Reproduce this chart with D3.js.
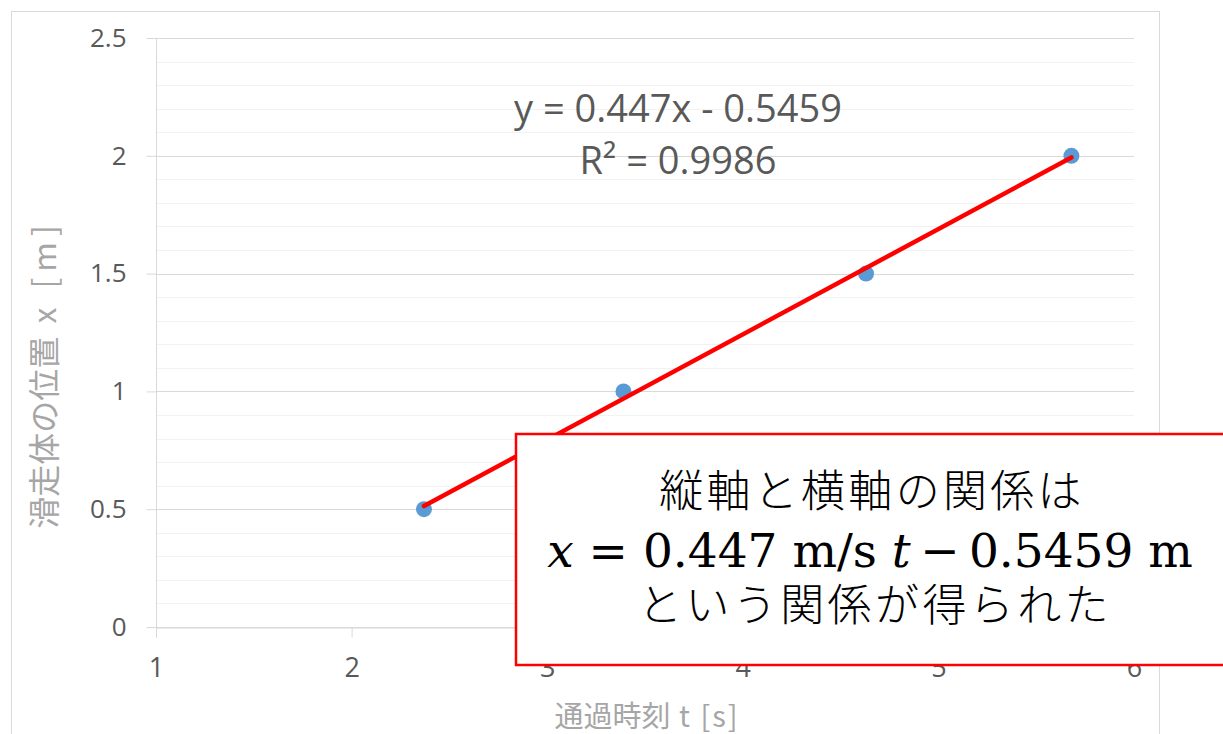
<!DOCTYPE html>
<html>
<head>
<meta charset="utf-8">
<script src="https://cdn.jsdelivr.net/npm/d3@7"></script>
<style>
  html, body { margin: 0; padding: 0; background: #ffffff; }
  svg { display: block; }
</style>
</head>
<body>
<svg id="chart" width="1223" height="734"></svg>
<script>
// ---- data ----
const tValues = [2.37, 3.39, 4.63, 5.68];   // 通過時刻 t [s]
const xValues = [0.5, 1.0, 1.5, 2.0];       // 滑走体の位置 x [m]
const slope = 0.447;
const intercept = -0.5459;
const rSquared = 0.9986;
const xTickValues = [1, 2, 3, 4, 5, 6];
const yTickValues = [0, 0.5, 1, 1.5, 2, 2.5];
const yMinorValues = [0.1,0.2,0.3,0.4,0.6,0.7,0.8,0.9,1.1,1.2,1.3,1.4,1.6,1.7,1.8,1.9,2.1,2.2,2.3,2.4];
const xAxisTitleJa = "通過時刻";
const xAxisTitleUnit = " t [s]";
const yAxisTitleJa = "滑走体の位置";
const yAxisTitleUnit = " x [m]";
const boxLine1 = "縦軸と横軸の関係は";
const boxLine3 = "という関係が得られた";

(function () {
const svg = d3.select("#chart");
const pLeft = 156, pRight = 1134, pTop = 38, pBottom = 627;

const x = d3.scaleLinear().domain([1, 6]).range([pLeft, pRight]);
const y = d3.scaleLinear().domain([0, 2.5]).range([pBottom, pTop]);

// chart frame
svg.append("rect").attr("x", 11.5).attr("y", 11.5).attr("width", 1148).attr("height", 740)
  .attr("fill", "#fff").attr("stroke", "#d9d9d9").attr("stroke-width", 1);

// minor gridlines
svg.append("g").selectAll("line").data(yMinorValues).join("line")
  .attr("x1", pLeft).attr("x2", pRight)
  .attr("y1", d => Math.round(y(d)) + 0.5).attr("y2", d => Math.round(y(d)) + 0.5)
  .attr("stroke", "#f2f2f2").attr("stroke-width", 1);

// major gridlines
svg.append("g").selectAll("line").data(yTickValues).join("line")
  .attr("x1", pLeft).attr("x2", pRight)
  .attr("y1", d => Math.round(y(d)) + 0.5).attr("y2", d => Math.round(y(d)) + 0.5)
  .attr("stroke", "#d9d9d9").attr("stroke-width", 1);

// y axis
const yAxis = d3.axisLeft(y).tickValues(yTickValues).tickSize(10).tickPadding(20)
  .tickFormat(d => String(d));
const gy = svg.append("g").attr("transform", `translate(${pLeft + 0.5},0)`).call(yAxis);
gy.select(".domain").attr("stroke", "#d9d9d9").attr("d", `M0,${y(2.5)}V${pBottom + 10}`);
gy.selectAll(".tick line").attr("stroke", "#d9d9d9");
gy.selectAll(".tick text").attr("fill", "#595959").style("font-family", "'Open Sans', sans-serif")
  .style("font-size", "26px");

// x axis
const xAxis = d3.axisBottom(x).tickValues(xTickValues).tickSize(10).tickPadding(20)
  .tickFormat(d => String(d));
const gx = svg.append("g").attr("transform", `translate(0,${pBottom + 0.5})`).call(xAxis);
gx.select(".domain").attr("stroke", "#d9d9d9");
gx.selectAll(".tick line").attr("stroke", "#d9d9d9");
gx.selectAll(".tick text").attr("fill", "#595959").style("font-family", "'Open Sans', sans-serif")
  .style("font-size", "27px");

// axis titles
const xt = svg.append("text").attr("x", 647).attr("y", 727).attr("text-anchor", "middle")
  .attr("fill", "#a6a6a6").style("font-family", "'Noto Sans CJK JP', sans-serif")
  .style("font-size", "29px");
xt.append("tspan").text(xAxisTitleJa);
xt.append("tspan").style("letter-spacing", "2px").text(xAxisTitleUnit);

const yt = svg.append("text").attr("transform", "translate(56,374) rotate(-90)").attr("text-anchor", "middle")
  .attr("fill", "#a6a6a6").style("font-family", "'Noto Sans CJK JP', sans-serif")
  .style("font-size", "32px");
yt.append("tspan").text(yAxisTitleJa);
yt.append("tspan").style("letter-spacing", "6px").text(yAxisTitleUnit);

// points
svg.append("g").selectAll("circle").data(tValues).join("circle")
  .attr("cx", d => x(d)).attr("cy", (d, i) => y(xValues[i])).attr("r", 8)
  .attr("fill", "#5b9bd5");

// trendline
const tMin = d3.min(tValues), tMax = d3.max(tValues);
svg.append("line")
  .attr("x1", x(tMin)).attr("y1", y(slope * tMin + intercept))
  .attr("x2", x(tMax)).attr("y2", y(slope * tMax + intercept))
  .attr("stroke", "#ff0000").attr("stroke-width", 4.5).attr("stroke-linecap", "round");

// equation label
const eq = svg.append("g").attr("fill", "#595959")
  .style("font-family", "'Open Sans', sans-serif").style("font-size", "38px");
eq.append("text").attr("x", 678).attr("y", 122).attr("text-anchor", "middle")
  .text(`y = ${slope}x - ${Math.abs(intercept)}`);
eq.append("text").attr("x", 678).attr("y", 174).attr("text-anchor", "middle")
  .text(`R² = ${rSquared}`);

// annotation box
svg.append("rect").attr("x", 516).attr("y", 434).attr("width", 720).attr("height", 231)
  .attr("fill", "#ffffff").attr("stroke", "#ff0000").attr("stroke-width", 2.5);

svg.append("text").attr("x", 872).attr("y", 507).attr("text-anchor", "middle")
  .attr("fill", "#000").style("font-family", "'Noto Sans CJK JP', sans-serif")
  .style("font-size", "44px").style("font-weight", 300).style("letter-spacing", "3.3px")
  .text(boxLine1);

const mathLine = svg.append("text").attr("x", 870).attr("y", 567).attr("text-anchor", "middle")
  .attr("fill", "#000").style("font-family", "'DejaVu Serif', serif").style("font-size", "47px");
mathLine.append("tspan").style("font-style", "italic").text("x");
mathLine.append("tspan").text(` = ${slope} m/s `);
mathLine.append("tspan").style("font-style", "italic").text("t");
mathLine.append("tspan").text(`\u2009\u2212\u2009${Math.abs(intercept)} m`);

svg.append("text").attr("x", 875).attr("y", 621).attr("text-anchor", "middle")
  .attr("fill", "#000").style("font-family", "'Noto Sans CJK JP', sans-serif")
  .style("font-size", "44px").style("font-weight", 300).style("letter-spacing", "3.4px")
  .text(boxLine3);
})();
</script>
</body>
</html>
